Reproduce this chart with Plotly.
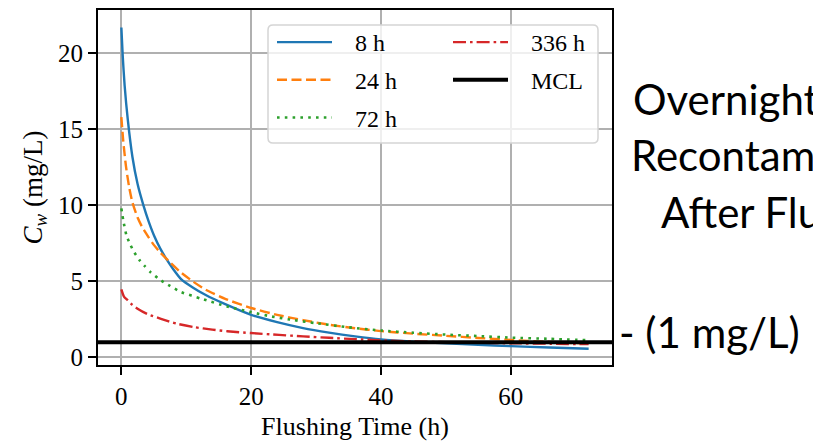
import plotly.graph_objects as go

# ---------------- data ----------------
t_8h = [0, 0.2, 0.5, 1, 1.7, 2.5, 3.4, 4.2, 5.1, 6, 6.9, 8, 9.2, 11, 13, 16, 20, 24, 28, 32, 36, 40, 45, 50, 55, 60, 66, 72]
c_8h = [21.7, 19.9, 17.9, 15.6, 13.2, 11.4, 10.0, 8.95, 7.95, 7.15, 6.5, 5.8, 5.15, 4.6, 4.1, 3.5, 2.8, 2.32, 1.93, 1.63, 1.38, 1.18, 1.03, 0.92, 0.83, 0.74, 0.65, 0.57]

t_24h = [0, 0.3, 0.7, 1.2, 1.7, 2.5, 3.3, 4.2, 5, 6, 7.5, 9, 11, 13, 16, 20, 24, 28, 32, 36, 40, 45, 50, 55, 60, 66, 72]
c_24h = [15.8, 14.2, 12.6, 11.2, 10.2, 9.2, 8.5, 7.9, 7.4, 6.9, 6.25, 5.65, 5.0, 4.45, 3.85, 3.25, 2.8, 2.45, 2.15, 1.92, 1.73, 1.56, 1.42, 1.28, 1.15, 1.02, 0.9]

t_72h = [0, 0.3, 0.8, 1.4, 2, 2.8, 3.5, 4.5, 6.1, 7.5, 9.2, 12.3, 16.3, 20, 23, 26.6, 30, 35, 40, 45, 50, 55, 60, 66, 72]
c_72h = [9.8, 9.0, 8.0, 7.4, 6.9, 6.4, 6.05, 5.6, 5.07, 4.7, 4.3, 3.86, 3.35, 2.98, 2.7, 2.45, 2.25, 1.98, 1.77, 1.62, 1.5, 1.4, 1.3, 1.22, 1.13]

t_336h = [0, 0.4, 1, 1.7, 2.5, 4, 6.1, 8.5, 11.2, 14, 16.3, 20, 24.3, 28, 32, 36, 40, 45, 50, 55, 60, 66, 72]
c_336h = [4.47, 4.0, 3.75, 3.45, 3.2, 2.85, 2.54, 2.22, 1.99, 1.83, 1.72, 1.6, 1.48, 1.38, 1.29, 1.2, 1.12, 1.05, 1.0, 0.96, 0.93, 0.9, 0.87]

mcl_value = 1.0

series_names = ["8 h", "24 h", "72 h", "336 h"]
x_ticks = [0, 20, 40, 60]
y_ticks = [0, 5, 10, 15, 20]
x_range = [-3.6, 75.6]
y_range = [-0.5, 22.85]

slide_lines = ["Overnight", "Recontam", "After Flu"]
mcl_note = "- (1 mg/L)"

# ---------------- layout helpers ----------------
W, H = 813, 441
L, R, T, B = 98, 201, 10, 76
PW, PH = W - L - R, H - T - B


def px_x(px):
    return (px - L) / PW


def px_y(py):
    return 1 - (py - T) / PH


SERIF = "Liberation Serif"
SANS = "Lato"
NB = "\u00a0\u00a0\u00a0"

fig = go.Figure()

styles = [
    dict(color="#1f77b4", width=2.4, dash="solid"),
    dict(color="#ff7f0e", width=2.4, dash="10px,4.5px"),
    dict(color="#2ca02c", width=2.6, dash="2.6px,5.2px"),
    dict(color="#d62728", width=2.4, dash="13px,4px,2.6px,4px"),
]
data = [(t_8h, c_8h), (t_24h, c_24h), (t_72h, c_72h), (t_336h, c_336h)]
legends = ["legend", "legend", "legend", "legend2"]

for name, (tx, cy), st, lg in zip(series_names, data, styles, legends):
    fig.add_trace(go.Scatter(
        x=tx, y=cy, mode="lines", name=NB + name, legend=lg, legendgroup=name,
        line=dict(color=st["color"], width=st["width"], dash=st["dash"], shape="spline", smoothing=0.6),
    ))

fig.add_trace(go.Scatter(
    x=x_range, y=[mcl_value, mcl_value], mode="lines", name=NB + "MCL", legend="legend2",
    legendgroup="MCL", line=dict(color="black", width=4),
))

axis_common = dict(
    showline=True, linecolor="black", linewidth=2, mirror=True,
    ticks="outside", tickcolor="black", tickwidth=2, ticklen=8,
    showgrid=True, gridcolor="#b0b0b0", gridwidth=1.6, zeroline=False,
    tickfont=dict(family=SERIF, size=25, color="black"),
)

fig.update_xaxes(range=x_range, tickvals=x_ticks,
                 title=dict(text="Flushing Time (h)", font=dict(family=SERIF, size=26, color="black"), standoff=11),
                 **axis_common)
fig.update_yaxes(range=y_range, tickvals=y_ticks,
                 title=dict(text="<i>C</i><sub><i>w</i></sub> (mg/L)", font=dict(family=SERIF, size=27, color="black"), standoff=8),
                 **axis_common)

legend_common = dict(
    xanchor="left", yanchor="top", bgcolor="rgba(0,0,0,0)", borderwidth=0,
    font=dict(family=SERIF, size=24, color="black"), itemwidth=55, tracegroupgap=3.5,
    orientation="v",
)

# legend box (rounded)
x0, x1, y0, y1 = px_x(268), px_x(598), px_y(143), px_y(25)
rx, ry = 5 / PW, 5 / PH
path = (f"M{x0+rx},{y1} L{x1-rx},{y1} Q{x1},{y1} {x1},{y1-ry} L{x1},{y0+ry} Q{x1},{y0} {x1-rx},{y0} "
        f"L{x0+rx},{y0} Q{x0},{y0} {x0},{y0+ry} L{x0},{y1-ry} Q{x0},{y1} {x0+rx},{y1} Z")

shapes = [
    dict(type="path", path=path, xref="paper", yref="paper", layer="above",
         fillcolor="rgba(255,255,255,0.8)", line=dict(color="#d5d5d5", width=1.5)),
]

annotations = []
slide_pos = [(631, 99), (629, 155), (659, 212)]
for txt, (ax, ay) in zip(slide_lines, slide_pos):
    annotations.append(dict(text=txt, x=px_x(ax), y=px_y(ay), xref="paper", yref="paper",
                            xanchor="left", yanchor="middle", showarrow=False,
                            font=dict(family=SANS, size=42, color="black")))
annotations.append(dict(text=mcl_note, x=px_x(617), y=px_y(332), xref="paper", yref="paper",
                        xanchor="left", yanchor="middle", showarrow=False,
                        font=dict(family=SANS, size=42, color="black")))

fig.update_layout(
    width=W, height=H,
    margin=dict(l=L, r=R, t=T, b=B, autoexpand=False),
    paper_bgcolor="white", plot_bgcolor="white",
    showlegend=True,
    legend=dict(x=px_x(272), y=px_y(20), **legend_common),
    legend2=dict(x=px_x(448), y=px_y(20), **legend_common),
    shapes=shapes,
    annotations=annotations,
)

fig.write_html("out.html")
